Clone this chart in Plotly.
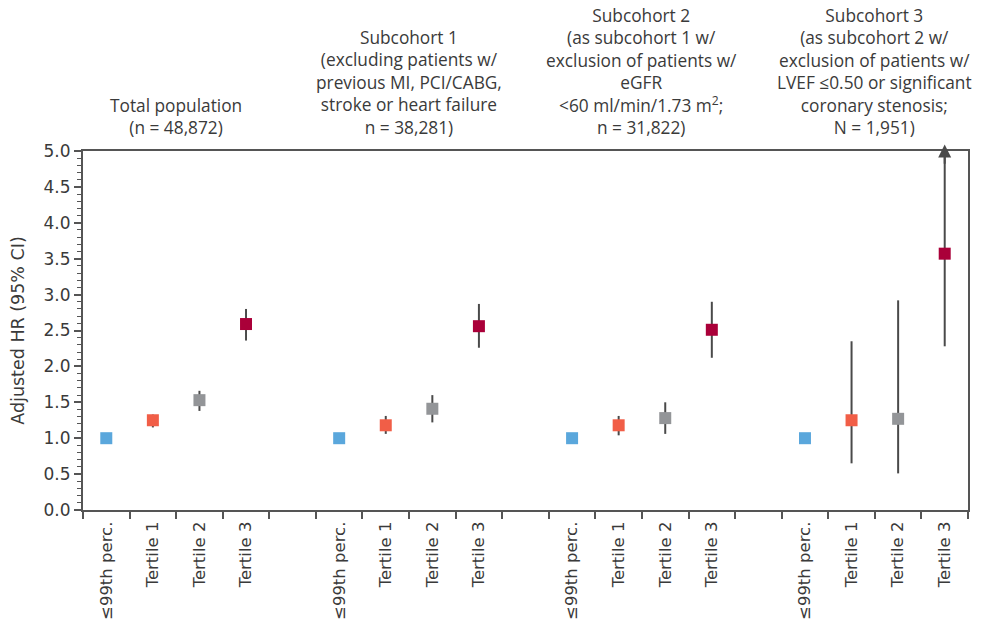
import plotly.graph_objects as go

# ---- data ----
groups = ["Total population", "Subcohort 1", "Subcohort 2", "Subcohort 3"]
group_headers = [
    "Total population<br>(n = 48,872)",
    "Subcohort 1<br>(excluding patients w/<br>previous MI, PCI/CABG,<br>stroke or heart failure<br>n = 38,281)",
    "Subcohort 2<br>(as subcohort 1 w/<br>exclusion of patients w/<br>eGFR<br>&lt;60 ml/min/1.73 m<sup>2</sup>;<br>n = 31,822)",
    "Subcohort 3<br>(as subcohort 2 w/<br>exclusion of patients w/<br>LVEF ≤0.50 or significant<br>coronary stenosis;<br>N = 1,951)",
]
categories = ["≤99th perc.", "Tertile 1", "Tertile 2", "Tertile 3"]
hr = {
    "≤99th perc.": [1.00, 1.00, 1.00, 1.00],
    "Tertile 1":   [1.25, 1.18, 1.18, 1.25],
    "Tertile 2":   [1.53, 1.41, 1.28, 1.27],
    "Tertile 3":   [2.59, 2.56, 2.51, 3.57],
}
ci_low = {
    "≤99th perc.": [None, None, None, None],
    "Tertile 1":   [1.15, 1.06, 1.04, 0.65],
    "Tertile 2":   [1.38, 1.22, 1.06, 0.51],
    "Tertile 3":   [2.36, 2.26, 2.12, 2.28],
}
# None = upper limit off the scale (arrow)
ci_high = {
    "≤99th perc.": [None, None, None, None],
    "Tertile 1":   [1.33, 1.31, 1.31, 2.35],
    "Tertile 2":   [1.66, 1.60, 1.50, 2.92],
    "Tertile 3":   [2.80, 2.87, 2.90, None],
}
colors = {
    "≤99th perc.": "#5AA7DC",
    "Tertile 1": "#F15E47",
    "Tertile 2": "#939598",
    "Tertile 3": "#AA0039",
}
y_ticks = [0.0, 0.5, 1.0, 1.5, 2.0, 2.5, 3.0, 3.5, 4.0, 4.5, 5.0]
y_max = 5.0

# ---- layout helpers ----
slots_per_group = len(categories) + 1
n_slots = slots_per_group * len(groups) - 1
HFONT = "Open Sans"
AFONT = "DejaVu Sans"
TXT = "#3a3a3a"
AXC = "#555555"
ERR = "#4a4a4a"

fig = go.Figure()
tickvals, ticktext = [], []
arrows = []
for ci, cat in enumerate(categories):
    xs, ys, up, dn = [], [], [], []
    for gi in range(len(groups)):
        x = gi * slots_per_group + ci
        y = hr[cat][gi]
        lo = ci_low[cat][gi]
        hi = ci_high[cat][gi]
        xs.append(x)
        ys.append(y)
        if lo is None and hi is None:
            up.append(0); dn.append(0)
        else:
            dn.append(y - lo if lo is not None else 0)
            if hi is None:
                up.append(y_max - y)
                arrows.append(x)
            else:
                up.append(hi - y)
    fig.add_trace(go.Scatter(
        x=xs, y=ys, mode="markers", name=cat, showlegend=False,
        marker=dict(symbol="square", size=12, color=colors[cat], line=dict(width=0)),
        error_y=dict(type="data", symmetric=False, array=up, arrayminus=dn,
                     color=ERR, thickness=2, width=0),
        cliponaxis=False,
    ))

for gi in range(len(groups)):
    for ci, cat in enumerate(categories):
        tickvals.append(gi * slots_per_group + ci)
        ticktext.append(cat)

annotations = []
for x in arrows:
    annotations.append(dict(
        x=x, y=y_max + 0.09, ax=x, ay=y_max - 0.2, xref="x", yref="y",
        axref="x", ayref="y", text="", showarrow=True, arrowhead=2,
        arrowsize=1.3, arrowwidth=2, arrowcolor=ERR,
    ))

for gi, txt in enumerate(group_headers):
    center = gi * slots_per_group + (len(categories) - 1) / 2
    annotations.append(dict(
        x=center, y=1, xref="x", yref="paper", yanchor="bottom", yshift=10,
        text=txt, showarrow=False, align="center",
        font=dict(family=HFONT, size=17.3, color=TXT),
    ))

fig.update_layout(
    width=983, height=627,
    margin=dict(l=83, r=15, t=151, b=117, autoexpand=False),
    paper_bgcolor="white", plot_bgcolor="white",
    font=dict(family=AFONT, color=TXT),
    annotations=annotations,
    xaxis=dict(
        range=[-0.5, n_slots - 0.5], tickvals=tickvals, ticktext=ticktext,
        tickangle=-90, ticks="", showgrid=False, zeroline=False, automargin=False,
        showline=True, linecolor=AXC, linewidth=2, mirror=True,
        ticklabelstandoff=3,
        tickfont=dict(family=AFONT, size=16.5, color=TXT),
        minor=dict(tick0=-0.5, dtick=1, ticks="outside", ticklen=7,
                   tickcolor=AXC, tickwidth=2, showgrid=False),
    ),
    yaxis=dict(
        range=[0, y_max], tickvals=y_ticks, tickformat=".1f", automargin=False,
        ticks="outside", ticklen=7, tickwidth=2, tickcolor=AXC,
        showgrid=False, zeroline=False,
        showline=True, linecolor=AXC, linewidth=2, mirror=True,
        tickfont=dict(family=AFONT, size=17, color=TXT),
        title=dict(text="Adjusted HR (95% CI)", font=dict(family=AFONT, size=17.5, color=TXT), standoff=14),
        minor=dict(dtick=0.1, ticks="outside", ticklen=4, tickcolor=AXC,
                   tickwidth=1, showgrid=False),
    ),
)

fig.write_html("out.html", config={"displayModeBar": False},
               post_script="document.body.style.margin='0';")
